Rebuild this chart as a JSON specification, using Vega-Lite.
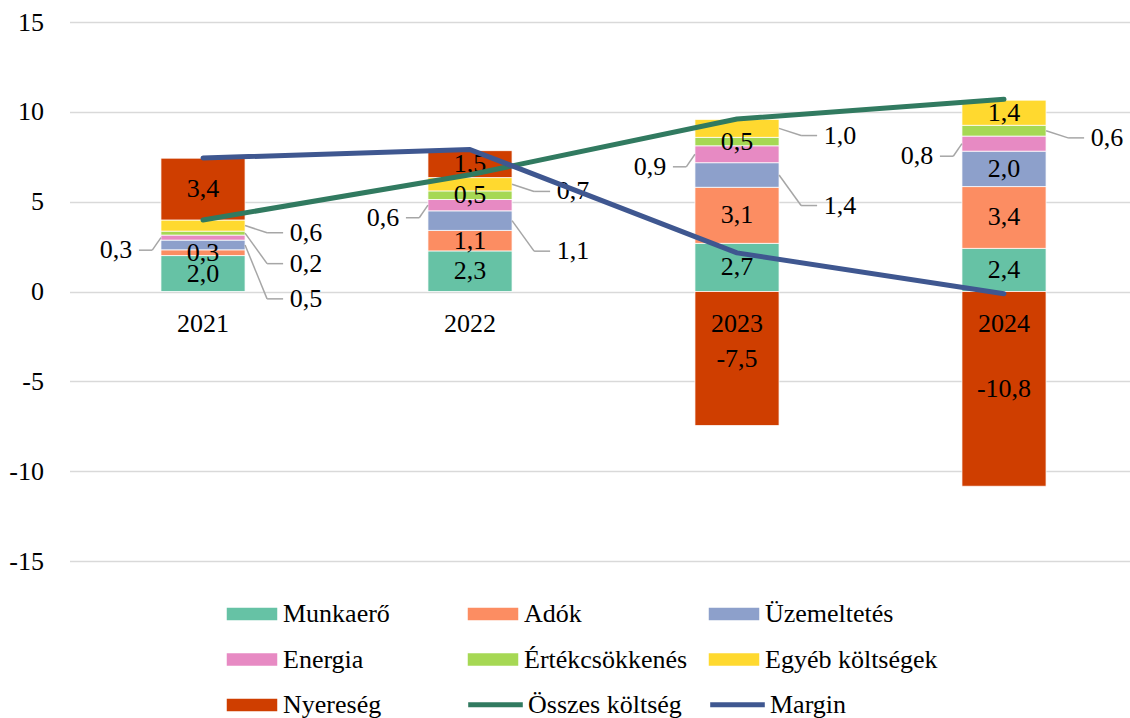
{
  "$schema": "https://vega.github.io/schema/vega-lite/v6.json",
  "width": 1068,
  "height": 539,
  "autosize": "none",
  "padding": {"left": 69.5, "top": 22, "right": 0, "bottom": 157},
  "config": {
    "locale": {"number": {"decimal": ",", "thousands": " ", "grouping": [3], "currency": ["", ""], "minus": "-"}},
    "view": {"stroke": null},
    "font": "Liberation Serif",
    "text": {"font": "Liberation Serif", "fontSize": 26, "color": "#000000"},
    "legend": {
      "title": null, "orient": "none", "direction": "horizontal", "gridAlign": "all", "padding": 0,
      "rowPadding": 18.5, "symbolSize": 676, "labelOffset": 17, "labelLimit": 400,
      "labelFont": "Liberation Serif", "labelFontSize": 26, "labelColor": "#000000"
    }
  },
  "datasets": {
    "bars": [
      {"year": "2021", "series": "Munkaerő", "value": 2.0},
      {"year": "2021", "series": "Adók", "value": 0.32},
      {"year": "2021", "series": "Üzemeltetés", "value": 0.54},
      {"year": "2021", "series": "Energia", "value": 0.28},
      {"year": "2021", "series": "Értékcsökkenés", "value": 0.22},
      {"year": "2021", "series": "Egyéb költségek", "value": 0.62},
      {"year": "2021", "series": "Nyereség", "value": 3.44},
      {"year": "2022", "series": "Munkaerő", "value": 2.26},
      {"year": "2022", "series": "Adók", "value": 1.14},
      {"year": "2022", "series": "Üzemeltetés", "value": 1.09},
      {"year": "2022", "series": "Energia", "value": 0.63},
      {"year": "2022", "series": "Értékcsökkenés", "value": 0.48},
      {"year": "2022", "series": "Egyéb költségek", "value": 0.74},
      {"year": "2022", "series": "Nyereség", "value": 1.5},
      {"year": "2023", "series": "Munkaerő", "value": 2.68},
      {"year": "2023", "series": "Adók", "value": 3.12},
      {"year": "2023", "series": "Üzemeltetés", "value": 1.37},
      {"year": "2023", "series": "Energia", "value": 0.94},
      {"year": "2023", "series": "Értékcsökkenés", "value": 0.47},
      {"year": "2023", "series": "Egyéb költségek", "value": 1.0},
      {"year": "2023", "series": "Nyereség", "value": -7.46},
      {"year": "2024", "series": "Munkaerő", "value": 2.4},
      {"year": "2024", "series": "Adók", "value": 3.44},
      {"year": "2024", "series": "Üzemeltetés", "value": 1.97},
      {"year": "2024", "series": "Energia", "value": 0.84},
      {"year": "2024", "series": "Értékcsökkenés", "value": 0.6},
      {"year": "2024", "series": "Egyéb költségek", "value": 1.4},
      {"year": "2024", "series": "Nyereség", "value": -10.84}
    ],
    "lines": [
      {"year": "2021", "series": "Összes költség", "value": 3.98},
      {"year": "2022", "series": "Összes költség", "value": 6.5},
      {"year": "2023", "series": "Összes költség", "value": 9.6},
      {"year": "2024", "series": "Összes költség", "value": 10.7},
      {"year": "2021", "series": "Margin", "value": 7.43},
      {"year": "2022", "series": "Margin", "value": 7.9},
      {"year": "2023", "series": "Margin", "value": 2.15},
      {"year": "2024", "series": "Margin", "value": -0.12}
    ]
  },
  "layer": [
    {
      "data": {"name": "bars"},
      "transform": [
        {"calculate": "indexof(['Munkaerő','Adók','Üzemeltetés','Energia','Értékcsökkenés','Egyéb költségek','Nyereség'], datum.series)", "as": "ord"},
        {"stack": "value", "groupby": ["year"], "sort": [{"field": "ord", "order": "ascending"}], "offset": "zero", "as": ["v0", "v1"]},
        {"calculate": "(datum.v0 + datum.v1) / 2", "as": "mid"},
        {"calculate": "datum.series === 'Energia' ? 'L' : ((((datum.series === 'Üzemeltetés' || datum.series === 'Egyéb költségek') && datum.year !== '2024') || (datum.series === 'Értékcsökkenés' && (datum.year === '2021' || datum.year === '2024'))) ? 'R' : 'C')", "as": "side"}
      ],
      "layer": [
        {
          "mark": {"type": "bar", "width": {"band": 0.315}, "stroke": "#ffffff", "strokeWidth": 0.75},
          "encoding": {
            "x": {"field": "year", "type": "nominal", "scale": {"paddingInner": 0, "paddingOuter": 0}, "axis": null},
            "y": {
              "field": "v0", "type": "quantitative", "title": null,
              "scale": {"domain": [-15, 15], "nice": false},
              "axis": {
                "values": [-15, -10, -5, 0, 5, 10, 15], "format": "d",
                "domain": false, "ticks": false, "labelFlush": false, "labelOverlap": false,
                "labelFont": "Liberation Serif", "labelFontSize": 26, "labelColor": "#000000", "labelPadding": 26,
                "gridColor": "#d9d9d9", "gridWidth": 1.3
              }
            },
            "y2": {"field": "v1"},
            "fill": {
              "field": "series", "type": "nominal",
              "scale": {
                "domain": ["Munkaerő", "Adók", "Üzemeltetés", "Energia", "Értékcsökkenés", "Egyéb költségek", "Nyereség"],
                "range": ["#66c2a5", "#fc8d62", "#8da0cb", "#e78ac3", "#a6d854", "#ffd92f", "#cf3e00"]
              },
              "legend": {
                "legendX": 168.5, "legendY": 578, "columns": 3, "columnPadding": 8,
                "symbolType": "M-2,-0.54H2V0.54H-2Z", "symbolOpacity": 1
              }
            }
          }
        },
        {
          "transform": [{"filter": "datum.side === 'C'"}],
          "mark": {"type": "text", "baseline": "middle", "align": "center"},
          "encoding": {
            "x": {"field": "year", "type": "nominal", "axis": null},
            "y": {"field": "mid", "type": "quantitative", "title": null},
            "text": {"field": "value", "type": "quantitative", "format": ".1f"}
          }
        },
        {
          "transform": [
            {"filter": "datum.side === 'R'"},
            {"window": [{"op": "row_number", "as": "rk"}], "groupby": ["year"], "sort": [{"field": "ord", "order": "descending"}]},
            {"calculate": "datum.mid - 0.4 - 1.3 * (datum.rk - 1)", "as": "ly"}
          ],
          "layer": [
            {
              "mark": {"type": "rule", "stroke": "#a6a6a6", "strokeWidth": 1.5},
              "encoding": {
                "x": {"field": "year", "type": "nominal", "bandPosition": 0.6575, "axis": null},
                "x2": {"field": "year", "bandPosition": 0.74},
                "y": {"field": "mid", "type": "quantitative", "title": null},
                "y2": {"field": "ly"}
              }
            },
            {
              "mark": {"type": "rule", "stroke": "#a6a6a6", "strokeWidth": 1.5},
              "encoding": {
                "x": {"field": "year", "type": "nominal", "bandPosition": 0.74, "axis": null},
                "x2": {"field": "year", "bandPosition": 0.8},
                "y": {"field": "ly", "type": "quantitative", "title": null}
              }
            },
            {
              "mark": {"type": "text", "baseline": "middle", "align": "left"},
              "encoding": {
                "x": {"field": "year", "type": "nominal", "bandPosition": 0.825, "axis": null},
                "y": {"field": "ly", "type": "quantitative", "title": null},
                "text": {"field": "value", "type": "quantitative", "format": ".1f"}
              }
            }
          ]
        },
        {
          "transform": [
            {"filter": "datum.side === 'L'"},
            {"calculate": "datum.mid - 0.7", "as": "ly"}
          ],
          "layer": [
            {
              "mark": {"type": "rule", "stroke": "#a6a6a6", "strokeWidth": 1.5},
              "encoding": {
                "x": {"field": "year", "type": "nominal", "bandPosition": 0.3425, "axis": null},
                "x2": {"field": "year", "bandPosition": 0.31},
                "y": {"field": "mid", "type": "quantitative", "title": null},
                "y2": {"field": "ly"}
              }
            },
            {
              "mark": {"type": "rule", "stroke": "#a6a6a6", "strokeWidth": 1.5},
              "encoding": {
                "x": {"field": "year", "type": "nominal", "bandPosition": 0.31, "axis": null},
                "x2": {"field": "year", "bandPosition": 0.26},
                "y": {"field": "ly", "type": "quantitative", "title": null}
              }
            },
            {
              "mark": {"type": "text", "baseline": "middle", "align": "right"},
              "encoding": {
                "x": {"field": "year", "type": "nominal", "bandPosition": 0.235, "axis": null},
                "y": {"field": "ly", "type": "quantitative", "title": null},
                "text": {"field": "value", "type": "quantitative", "format": ".1f"}
              }
            }
          ]
        }
      ]
    },
    {
      "data": {"name": "lines"},
      "transform": [{"filter": "datum.series === 'Margin'"}],
      "mark": {"type": "text", "baseline": "middle", "align": "center", "dy": 32},
      "encoding": {
        "x": {"field": "year", "type": "nominal", "axis": null},
        "y": {"datum": 0, "type": "quantitative"},
        "text": {"field": "year", "type": "nominal"}
      }
    },
    {
      "data": {"name": "lines"},
      "mark": {"type": "line", "strokeWidth": 5, "strokeCap": "round", "strokeJoin": "round"},
      "encoding": {
        "x": {"field": "year", "type": "nominal", "axis": null},
        "y": {"field": "value", "type": "quantitative", "title": null},
        "stroke": {
          "field": "series", "type": "nominal",
          "scale": {"domain": ["Összes költség", "Margin"], "range": ["#317a60", "#3f5790"]},
          "legend": {
            "legendX": 410.5, "legendY": 667, "columns": 2, "columnPadding": 18,
            "symbolType": "M-2.1,0H2.1", "symbolStrokeWidth": 5, "symbolOpacity": 1
          }
        }
      }
    }
  ]
}
